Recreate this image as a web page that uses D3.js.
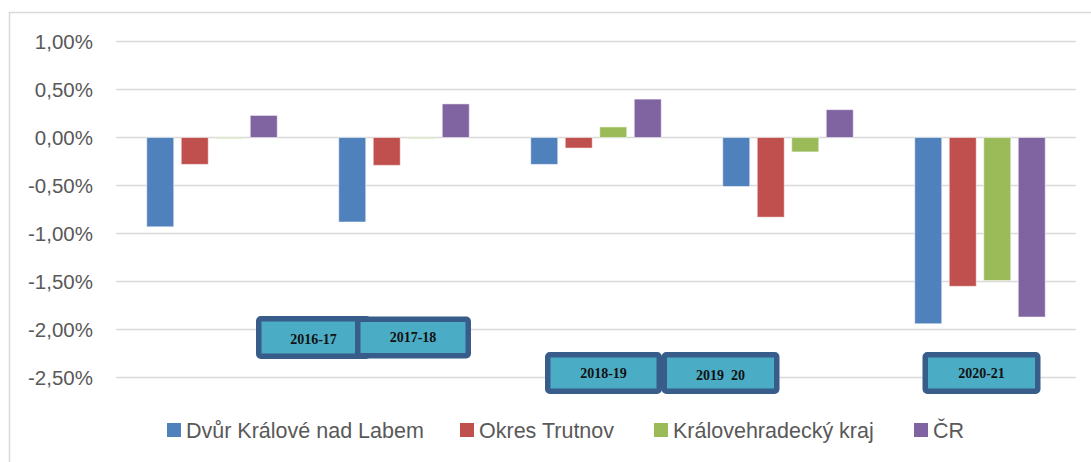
<!DOCTYPE html>
<html>
<head>
<meta charset="utf-8">
<script src="https://cdn.jsdelivr.net/npm/d3@7"></script>
<style>
  body { margin: 0; background: #fff; }
  svg text { font-family: "Liberation Sans", Arial, sans-serif; }
  svg text.box-label { font-family: "Liberation Serif", "Times New Roman", serif; white-space: pre; }
</style>
</head>
<body>
<div id="chart"></div>
<script>
// data
let years = ['2016-17', '2017-18', '2018-19', '2019  20', '2020-21'];
let seriesNames = ['Dvůr Králové nad Labem', 'Okres Trutnov', 'Královehradecký kraj', 'ČR'];
let dvur    = [-0.93, -0.88, -0.28, -0.51, -1.94];
let trutnov = [-0.28, -0.29, -0.11, -0.83, -1.55];
let kraj    = [-0.01, -0.01,  0.11, -0.15, -1.49];
let cr      = [ 0.23,  0.35,  0.40,  0.29, -1.87];
let yTicks  = [1.0, 0.5, 0, -0.5, -1.0, -1.5, -2.0, -2.5];

let colors = ['#4F81BD', '#C0504D', '#9BBB59', '#8064A2'];
let allSeries = [dvur, trutnov, kraj, cr];

let width = 1091, height = 462;
let margin = {top: 41.5, left: 116, right: 15, bottom: 84.5};

let svg = d3.select('#chart').append('svg')
  .attr('width', width)
  .attr('height', height);

// outer frame
svg.append('path')
  .attr('d', `M9.5,${height} V12.5 H${width}`)
  .attr('fill', 'none')
  .attr('stroke', '#d9d9d9')
  .attr('stroke-width', 1.5);

let y = d3.scaleLinear()
  .domain([-2.5, 1.0])
  .range([height - margin.bottom, margin.top]);

let x0 = d3.scaleBand()
  .domain(years)
  .range([margin.left, width - margin.right]);

// 4 bars of 27px, 7.5px apart, centred in each 192px group
let x1 = d3.scaleBand()
  .domain(d3.range(4))
  .range([30.75, 30.75 + 3 * 34.5 + 27])
  .paddingInner(7.5 / 34.5)
  .paddingOuter(0);

// gridlines + tick labels
let fmt = d => (d < 0 ? '-' : '') + d3.format('.2f')(Math.abs(d)).replace('.', ',') + '%';

svg.append('g')
  .selectAll('line')
  .data(yTicks)
  .enter().append('line')
    .attr('x1', margin.left)
    .attr('x2', width - margin.right)
    .attr('y1', d => y(d))
    .attr('y2', d => y(d))
    .attr('stroke', '#d9d9d9')
    .attr('stroke-width', 1.5);

svg.append('g')
  .selectAll('text')
  .data(yTicks)
  .enter().append('text')
    .attr('x', 93)
    .attr('y', d => y(d))
    .attr('dy', '0.35em')
    .attr('text-anchor', 'end')
    .attr('font-size', 20.5)
    .attr('fill', '#595959')
    .text(fmt);

// bars
let groups = svg.append('g')
  .selectAll('g')
  .data(years)
  .enter().append('g')
    .attr('transform', d => `translate(${x0(d)},0)`);

groups.selectAll('rect')
  .data((d, gi) => allSeries.map((s, si) => ({si: si, v: s[gi]})))
  .enter().append('rect')
    .attr('x', d => x1(d.si))
    .attr('width', x1.bandwidth())
    .attr('y', d => y(Math.max(0, d.v)))
    .attr('height', d => Math.max(1, Math.abs(y(d.v) - y(0))))
    .attr('fill', d => colors[d.si])
    .attr('stroke', '#fff')
    .attr('stroke-opacity', 0.5)
    .attr('stroke-width', 1);

// year label boxes (placed by hand as in the source)
let boxes = [
  {label: years[0], x: 256, y: 316, w: 115, h: 43, dy: 2},
  {label: years[1], x: 355, y: 316.5, w: 116, h: 42, dy: 0},
  {label: years[2], x: 545, y: 352, w: 117, h: 42, dy: 0},
  {label: years[3], x: 661.5, y: 352, w: 118, h: 42, dy: 2},
  {label: years[4], x: 922.5, y: 352, w: 118, h: 42, dy: 0}
];

let box = svg.append('g')
  .selectAll('g')
  .data(boxes)
  .enter().append('g');

box.append('rect')
  .attr('x', d => d.x + 2.75)
  .attr('y', d => d.y + 2.75)
  .attr('width', d => d.w - 5.5)
  .attr('height', d => d.h - 5.5)
  .attr('rx', 2)
  .attr('fill', '#4BACC6')
  .attr('stroke', '#385D8A')
  .attr('stroke-width', 5.5);

box.append('text')
  .attr('class', 'box-label')
  .attr('x', d => d.x + d.w / 2)
  .attr('y', d => d.y + d.h / 2 + d.dy)
  .attr('dy', '0.35em')
  .attr('text-anchor', 'middle')
  .attr('font-weight', 'bold')
  .attr('font-size', 14)
  .attr('fill', '#111')
  .text(d => d.label);

// legend
let legendX = [167, 460, 654, 914];
let legend = svg.append('g')
  .selectAll('g')
  .data(seriesNames)
  .enter().append('g')
    .attr('transform', (d, i) => `translate(${legendX[i]}, 423)`);

legend.append('rect')
  .attr('width', 14)
  .attr('height', 14)
  .attr('fill', (d, i) => colors[i]);

legend.append('text')
  .attr('x', 19)
  .attr('y', 7)
  .attr('dy', '0.35em')
  .attr('font-size', 21.5)
  .attr('fill', '#595959')
  .text(d => d);
</script>
</body>
</html>
